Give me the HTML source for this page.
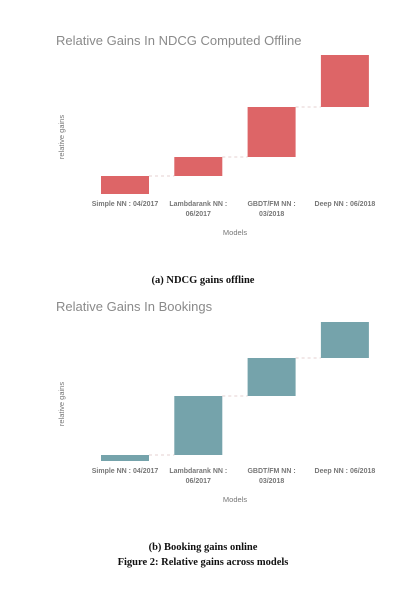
<!DOCTYPE html>
<html><head><meta charset="utf-8"><style>
body{margin:0;background:#fff;width:412px;height:594px;overflow:hidden}
svg{display:block}
</style></head><body>
<svg id="fig" width="412" height="594" xmlns="http://www.w3.org/2000/svg" font-family="Liberation Sans, sans-serif"></svg>
<script>
const categories = ["Simple NN : 04/2017", "Lambdarank NN : 06/2017", "GBDT/FM NN : 03/2018", "Deep NN : 06/2018"];
const tickLine1 = ["Simple NN : 04/2017", "Lambdarank NN :", "GBDT/FM NN :", "Deep NN : 06/2018"];
const tickLine2 = ["", "06/2017", "03/2018", ""];
const ndcgGains = [1.8, 1.9, 5.0, 5.2];
const bookingGains = [0.6, 5.9, 3.8, 3.6];

const svg = document.getElementById('fig');
const NS = 'http://www.w3.org/2000/svg';
function mk(tag, attrs, text){const e=document.createElementNS(NS,tag);for(const k in attrs)e.setAttribute(k,attrs[k]);if(text!==undefined)e.textContent=text;svg.appendChild(e);return e;}

function chart(cfg){
  const xCenter = i => 125 + i*73.3;
  const yVal = v => cfg.base - v*cfg.pxPerUnit;
  const t = mk('text',{x:56,y:cfg.titleY,'font-size':13,fill:'#8a8a8a'},cfg.title);
  
  
  const yl = mk('text',{x:0,y:0,'font-size':7.5,fill:'#777','text-anchor':'middle',transform:`translate(64,${cfg.ylY}) rotate(-90)`},'relative gains');
  
  
  let cum = 0;
  cfg.values.forEach((v,i)=>{
    const y0 = yVal(cum), y1 = yVal(cum+v);
    const r = mk('rect',{x:xCenter(i)-24,y:y1,width:48,height:y0-y1,fill:cfg.color});
    
    
    if(i<cfg.values.length-1){
      const l = mk('line',{x1:xCenter(i)+24,x2:xCenter(i+1)-24,y1:y1,y2:y1,stroke:'#e6d0d0','stroke-width':1,'stroke-dasharray':'3,3'});
      
      
    }
    cum += v;
    const a = mk('text',{x:xCenter(i),y:cfg.tickY,'font-size':7,fill:'#777','text-anchor':'middle','font-weight':'bold'},tickLine1[i]);
    
    
    if(tickLine2[i]){
      const b = mk('text',{x:xCenter(i),y:cfg.tickY+10,'font-size':7,fill:'#777','text-anchor':'middle','font-weight':'bold'},tickLine2[i]);
      
      
    }
  });
  const m = mk('text',{x:235,y:cfg.modelsY,'font-size':7.5,fill:'#777','text-anchor':'middle'},'Models');
  
  
}
chart({key:'ndcg',title:'Relative Gains In NDCG Computed Offline',titleY:45,ylY:137,base:194,pxPerUnit:10,values:ndcgGains,color:'#dd6567',tickY:206,modelsY:235});
chart({key:'bookings',title:'Relative Gains In Bookings',titleY:311,ylY:404,base:461,pxPerUnit:10,values:bookingGains,color:'#75a3ab',tickY:473,modelsY:502});

const capStyle={'font-family':'Liberation Serif, serif','font-size':10.5,'font-weight':'bold',fill:'#111','text-anchor':'middle'};
let c=mk('text',Object.assign({x:203,y:283},capStyle),'(a) NDCG gains offline');


c=mk('text',Object.assign({x:203,y:550},capStyle),'(b) Booking gains online');


c=mk('text',Object.assign({x:203,y:565},capStyle),'Figure 2: Relative gains across models');


</script>
</body></html>
